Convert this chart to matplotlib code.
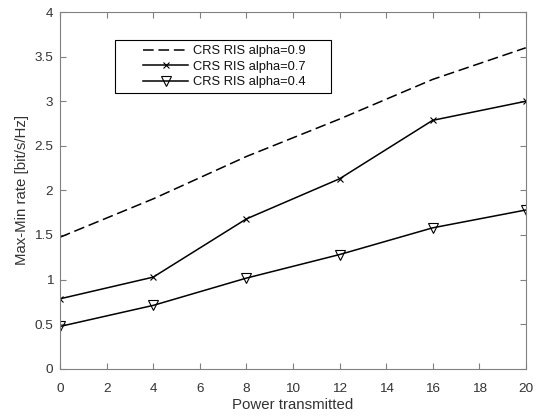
import matplotlib
matplotlib.use("Agg")
import matplotlib.pyplot as plt
from matplotlib.patches import Rectangle

power = [0, 4, 8, 12, 16, 20]
alpha09 = [1.475, 1.905, 2.38, 2.80, 3.245, 3.60]
alpha07 = [0.784, 1.027, 1.68, 2.13, 2.786, 3.0]
alpha04 = [0.474, 0.71, 1.016, 1.28, 1.58, 1.78]
labels = ["CRS RIS alpha=0.9", "CRS RIS alpha=0.7", "CRS RIS alpha=0.4"]
xticks = list(range(0, 21, 2))
yticks = [0, 0.5, 1, 1.5, 2, 2.5, 3, 3.5, 4]

plt.rcParams['font.family'] = ['Liberation Sans', 'DejaVu Sans']
plt.rcParams['font.size'] = 10

fig = plt.figure(figsize=(5.46, 4.18), dpi=100)
ax = fig.add_axes([0.110, 0.118, 0.853, 0.853])

ax.plot(power, alpha09, color='black', lw=1.1, dashes=(7.0, 3.1), label=labels[0])
ax.plot(power, alpha07, '-', color='black', lw=1.1, marker='x', ms=5, mew=0.8, label=labels[1])
ax.plot(power, alpha04, '-', color='black', lw=1.1, marker='v', ms=7, mew=0.8,
        mfc='none', label=labels[2])

ax.set_xlim(0, 20)
ax.set_ylim(0, 4)
ax.set_xticks(xticks)
ax.set_yticks(yticks)
ax.set_yticklabels([f"{v:g}" for v in yticks])

axc = '#808080'
txtc = '#333333'
for s in ax.spines.values():
    s.set_color(axc)
    s.set_linewidth(0.8)
ax.tick_params(direction='in', top=True, right=True, length=4, color=axc,
               labelcolor=txtc, labelsize=9.7)
ax.tick_params(axis='x', pad=10)
ax.tick_params(axis='y', pad=5)
ax.set_xlabel("Power transmitted", color=txtc, fontsize=10.8, labelpad=2.5)
ax.set_ylabel("Max-Min rate [bit/s/Hz]", color=txtc, fontsize=10.8, labelpad=4)

# legend frame (MATLAB style, generous horizontal padding)
frame = Rectangle((0.118, 0.773), 0.4635, 0.148, transform=ax.transAxes,
                  facecolor='white', edgecolor='black', lw=0.8, zorder=4)
ax.add_patch(frame)
leg = ax.legend(loc='upper left', bbox_to_anchor=(0.170, 0.9187), frameon=False,
                handlelength=3.5, handletextpad=0.4, borderpad=0.3,
                labelspacing=0.27, borderaxespad=0, fontsize=9.3)
leg.set_zorder(5)
for t in leg.get_texts():
    t.set_color('#111111')

fig.savefig("out.png", dpi=100)
